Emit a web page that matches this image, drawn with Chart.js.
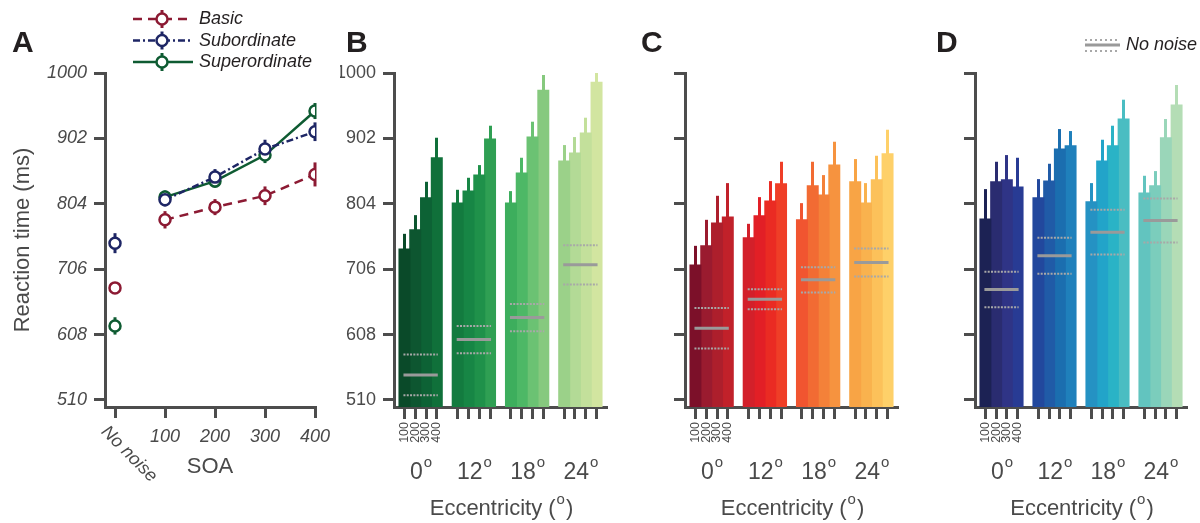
<!DOCTYPE html>
<html>
<head>
<meta charset="utf-8">
<script src="https://cdn.jsdelivr.net/npm/chart.js@4/dist/chart.umd.min.js"></script>
<style>
html, body { margin: 0; padding: 0; background: #fff; overflow: hidden; width: 1200px; height: 523px; }
.panel { position: absolute; top: 0; height: 523px; }
.letter { position: absolute; top: 27px; font: bold 30px "Liberation Sans", Arial, sans-serif; line-height: 30px; color: #231f20; }
</style>
</head>
<body>
<div class="panel" style="left:0;width:340px"><canvas id="cA" width="340" height="523"></canvas></div>
<div class="panel" style="left:340px;width:300px"><canvas id="cB" width="300" height="523"></canvas></div>
<div class="panel" style="left:631px;width:289px"><canvas id="cC" width="289" height="523"></canvas></div>
<div class="panel" style="left:921px;width:279px"><canvas id="cD" width="279" height="523"></canvas></div>
<div class="letter" style="left:12px">A</div>
<div class="letter" style="left:346px">B</div>
<div class="letter" style="left:641px">C</div>
<div class="letter" style="left:936px">D</div>
<script>
const fam = '"Liberation Sans", Arial, sans-serif';
const axisGray = '#4d4d4d';
const textGray = '#4a4a4a';
Chart.defaults.font.family = fam;
Chart.defaults.color = textGray;

// ---- panel A: mean RT per SOA (0 = no noise)
const soaX = [0, 100, 200, 300, 400];
const rtTicks = [510, 608, 706, 804, 902, 1000];
const basicRT = [678, 780, 799, 816, 848];
const basicErr = [4, 13, 12, 14, 18];
const subRT = [745, 810, 844, 886, 912];
const subErr = [15, 10, 12, 14, 14];
const supRT = [621, 814, 838, 877, 943];
const supErr = [13, 10, 10, 12, 12];
const seriesNames = ['Basic', 'Subordinate', 'Superordinate'];
const seriesColors = ['#8c1a33', '#1e2665', '#0e5b32'];

// ---- panels B-D: rows = eccentricity, columns = SOA 100..400
const ecc = ['0', '12', '18', '24'];
const soaBars = ['100', '200', '300', '400'];

const supBars = [[736, 765, 813, 873], [805, 823, 847, 901], [805, 850, 904, 974], [868, 880, 910, 986]];
const supBarErr = [[23, 22, 24, 30], [20, 20, 15, 20], [18, 23, 23, 23], [24, 24, 23, 14]];
const supNoNoise = [547.5, 600.5, 633.5, 712.5];
const supNoNoiseSd = [30.5, 20.5, 20.5, 29.5];

const basicBars = [[712, 741, 775, 784], [753, 786, 808, 834], [780, 831, 817, 862], [837, 805, 840, 879]];
const basicBarErr = [[29, 39, 41, 51], [21, 28, 30, 33], [25, 36, 30, 35], [34, 30, 36, 36]];
const basicNoNoise = [617.5, 661, 690, 716];
const basicNoNoiseSd = [30.5, 15, 19, 21];

const subBars = [[781, 837, 840, 829], [813, 838, 886, 891], [807, 868, 891, 931], [820, 831, 903, 952]];
const subBarErr = [[45, 30, 37, 44], [28, 26, 30, 22], [28, 32, 30, 29], [26, 22, 28, 30]];
const subNoNoise = [675.5, 726, 761.5, 779];
const subNoNoiseSd = [26.5, 27, 33.5, 33];

const greens = ['#0a4a29','#0d5630','#0d6235','#10703a','#137b3f','#178645','#1f914a','#2f9f53',
                '#3dae5d','#4db866','#6bc273','#86c97e','#9bd189','#b3da96','#c3e09b','#d2e5a0'];
const reds = ['#7c1029','#9a1b2f','#ad1f2c','#c1212a','#d3202a','#e21f26','#ea2b23','#ef3e27',
              '#f15530','#f26b33','#f48139','#f6933f','#f8a445','#f9b24e','#fcc15a','#fed069'];
const blues = ['#1c2254','#2a2c70','#2f3486','#283b94','#22489d','#205ba7','#1b6eaf','#1f80bb',
               '#2592c3','#22a4c9','#2ab3c6','#4abdc2','#62c4bf','#7bcdbc','#9ad6b9','#b4ddb5'];

function yAxis(width, labels, italic, title) {
  return {
    min: 499.5, max: 1000,
    afterBuildTicks: s => { s.ticks = rtTicks.map(v => ({ value: v })); },
    afterFit: s => { s.width = width; s.paddingTop = 0; s.paddingBottom = 0; },
    ticks: { font: { size: 18, style: italic ? 'italic' : 'normal' }, color: textGray, padding: 7,
             callback: v => labels ? String(v) : '' },
    grid: { drawOnChartArea: false, tickLength: 11, lineWidth: 3, color: axisGray },
    border: { display: true, width: 3, color: axisGray },
    title: title ? { display: true, text: title, font: { size: 22 }, color: textGray, padding: { top: 10 } } : { display: false }
  };
}

// text followed by a raised small "o"
function supText(ctx, base, cx, baseline, size, tail) {
  const big = size + 'px ' + fam, small = Math.round(size * 0.66) + 'px ' + fam;
  ctx.font = big; const w1 = ctx.measureText(base).width;
  const w3 = tail ? ctx.measureText(tail).width : 0;
  ctx.font = small; const w2 = ctx.measureText('o').width;
  let x = cx - (w1 + w2 + w3) / 2;
  ctx.textAlign = 'left'; ctx.textBaseline = 'alphabetic';
  ctx.font = big; ctx.fillText(base, x, baseline); x += w1;
  ctx.font = small; ctx.fillText('o', x + 1, baseline - size * 0.52); x += w2 + 2;
  if (tail) { ctx.font = big; ctx.fillText(tail, x, baseline); }
}

const crisp = v => Math.round(v - 0.5) + 0.5;

// ---- panel A
const errPlugin = {
  id: 'errA',
  beforeDatasetsDraw(chart) {
    const { ctx, scales: { x, y } } = chart;
    const errs = [basicErr, subErr, supErr];
    const vals = [basicRT, subRT, supRT];
    ctx.save();
    ctx.lineWidth = 3;
    vals.forEach((v, i) => {
      ctx.strokeStyle = seriesColors[i];
      v.forEach((val, k) => {
        const px = x.getPixelForValue(soaX[k]);
        ctx.beginPath();
        ctx.moveTo(px, y.getPixelForValue(val - errs[i][k]));
        ctx.lineTo(px, y.getPixelForValue(val + errs[i][k]));
        ctx.stroke();
      });
    });
    ctx.restore();
  },
  afterDraw(chart) {
    const { ctx, scales: { x } } = chart;
    ctx.save();
    // rotated "No noise" tick label
    ctx.translate(x.getPixelForValue(0) - 11, chart.chartArea.bottom + 22);
    ctx.rotate(Math.PI / 4);
    ctx.font = 'italic 18px ' + fam;
    ctx.fillStyle = textGray;
    ctx.textAlign = 'left'; ctx.textBaseline = 'middle';
    ctx.fillText('No noise', 0, 0);
    ctx.restore();
    // legend
    const dashes = [[9, 6], [7, 3, 2, 3], []];
    ctx.save();
    seriesNames.forEach((name, i) => {
      const ly = 19 + 21.5 * i;
      ctx.strokeStyle = seriesColors[i];
      ctx.lineWidth = 2.5;
      ctx.setLineDash(dashes[i]);
      ctx.beginPath(); ctx.moveTo(133, ly); ctx.lineTo(193, ly); ctx.stroke();
      ctx.setLineDash([]);
      ctx.lineWidth = 3;
      ctx.beginPath(); ctx.moveTo(162, ly - 9); ctx.lineTo(162, ly + 9); ctx.stroke();
      ctx.lineWidth = 2.5;
      ctx.fillStyle = '#fff';
      ctx.beginPath(); ctx.arc(162, ly, 5.5, 0, Math.PI * 2); ctx.fill(); ctx.stroke();
      ctx.fillStyle = '#231f20';
      ctx.font = 'italic 18px ' + fam;
      ctx.textAlign = 'left'; ctx.textBaseline = 'middle';
      ctx.fillText(name, 199, ly);
    });
    ctx.restore();
  }
};

function lineSet(label, vals, color, dash) {
  return {
    label: label,
    data: soaX.map((x, i) => ({ x: x, y: vals[i] })),
    borderColor: color, borderWidth: 2.5, borderDash: dash,
    pointRadius: 5.5, pointBorderWidth: 2.5, pointBackgroundColor: '#fff', pointBorderColor: color,
    tension: 0,
    segment: { borderColor: c => c.p0DataIndex === 0 ? 'rgba(0,0,0,0)' : undefined }
  };
}

new Chart(document.getElementById('cA'), {
  type: 'line',
  data: { datasets: [
    lineSet('Basic', basicRT, seriesColors[0], [9, 6]),
    lineSet('Subordinate', subRT, seriesColors[1], [7, 3, 2, 3]),
    lineSet('Superordinate', supRT, seriesColors[2], [])
  ] },
  options: {
    responsive: false, animation: false, devicePixelRatio: 1,
    layout: { padding: { top: 73, right: 25, left: 0, bottom: 0 } },
    plugins: { legend: { display: false }, tooltip: { enabled: false } },
    scales: {
      x: {
        type: 'linear', min: -20, max: 400,
        afterBuildTicks: s => { s.ticks = soaX.map(v => ({ value: v })); },
        afterFit: s => { s.height = 116; s.paddingLeft = 0; s.paddingRight = 0; },
        ticks: { font: { size: 18, style: 'italic' }, color: textGray, padding: 8, maxRotation: 0, autoSkip: false,
                 callback: v => v === 0 ? '' : String(v) },
        grid: { drawOnChartArea: false, tickLength: 11, lineWidth: 3, color: axisGray },
        border: { display: true, width: 3, color: axisGray },
        title: { display: true, text: 'SOA', font: { size: 22 }, color: textGray, padding: { top: 0, bottom: 43 } }
      },
      y: yAxis(105, true, true, 'Reaction time (ms)')
    }
  },
  plugins: [errPlugin]
});

// ---- panels B-D
function barPanel(id, bars, errs, nn, nnSd, colors, labels, rightPad, legend) {
  const plugin = {
    id: 'extras' + id,
    afterDatasetsDraw(chart) {
      const { ctx, chartArea: ca, scales: { y } } = chart;
      ctx.save();
      // upper error bars
      ctx.lineWidth = 3;
      chart.data.datasets.forEach((ds, j) => {
        chart.getDatasetMeta(j).data.forEach((bar, g) => {
          const bx = crisp(bar.x);
          ctx.strokeStyle = colors[g * 4 + j];
          ctx.beginPath();
          ctx.moveTo(bx, bar.y + 1);
          ctx.lineTo(bx, y.getPixelForValue(bars[g][j] + errs[g][j]));
          ctx.stroke();
        });
      });
      // no-noise mean and spread
      const first = chart.getDatasetMeta(0).data, last = chart.getDatasetMeta(3).data;
      nn.forEach((v, g) => {
        const x0 = first[g].x - 1, x1 = last[g].x + 1;
        ctx.strokeStyle = '#9a9a9a'; ctx.lineWidth = 3; ctx.setLineDash([]);
        ctx.beginPath(); ctx.moveTo(x0, y.getPixelForValue(v)); ctx.lineTo(x1, y.getPixelForValue(v)); ctx.stroke();
        ctx.strokeStyle = '#a8a8a8'; ctx.lineWidth = 2; ctx.setLineDash([2, 1.3]);
        [v + nnSd[g], v - nnSd[g]].forEach(d => {
          ctx.beginPath(); ctx.moveTo(x0, y.getPixelForValue(d)); ctx.lineTo(x1, y.getPixelForValue(d)); ctx.stroke();
        });
      });
      ctx.setLineDash([]);
      // tick marks under every bar, SOA labels under first group
      ctx.strokeStyle = axisGray; ctx.lineWidth = 3;
      ctx.fillStyle = textGray;
      chart.data.datasets.forEach((ds, j) => {
        chart.getDatasetMeta(j).data.forEach((bar, g) => {
          const bx = crisp(bar.x);
          ctx.beginPath(); ctx.moveTo(bx, ca.bottom); ctx.lineTo(bx, ca.bottom + 12); ctx.stroke();
          if (g === 0) {
            ctx.save();
            ctx.translate(bar.x, ca.bottom + 15);
            ctx.rotate(-Math.PI / 2);
            ctx.font = '12.5px ' + fam;
            ctx.textAlign = 'right'; ctx.textBaseline = 'middle';
            ctx.fillText(soaBars[j], 0, 0);
            ctx.restore();
          }
        });
      });
      // eccentricity labels and axis title
      ecc.forEach((e, g) => {
        const cx = (first[g].x + last[g].x) / 2;
        supText(ctx, e, cx, ca.bottom + 72, 23);
      });
      supText(ctx, 'Eccentricity (', (ca.left + ca.right) / 2, ca.bottom + 108, 22, ')');
      if (legend) {
        const lx0 = 164, lx1 = 199, ly = 45;
        ctx.strokeStyle = '#9a9a9a'; ctx.lineWidth = 3;
        ctx.beginPath(); ctx.moveTo(lx0, ly); ctx.lineTo(lx1, ly); ctx.stroke();
        ctx.strokeStyle = '#a8a8a8'; ctx.lineWidth = 2; ctx.setLineDash([2, 3]);
        [ly - 5, ly + 6].forEach(d => { ctx.beginPath(); ctx.moveTo(lx0, d); ctx.lineTo(lx1, d); ctx.stroke(); });
        ctx.setLineDash([]);
        ctx.fillStyle = '#231f20';
        ctx.font = 'italic 18px ' + fam;
        ctx.textAlign = 'left'; ctx.textBaseline = 'middle';
        ctx.fillText('No noise', 205, ly);
      }
      ctx.restore();
    }
  };

  new Chart(document.getElementById(id), {
    type: 'bar',
    data: {
      labels: ecc,
      datasets: soaBars.map((s, j) => ({
        label: s,
        data: bars.map(r => r[j]),
        backgroundColor: bars.map((r, g) => colors[g * 4 + j]),
        borderWidth: 0,
        inflateAmount: 0.6,
        categoryPercentage: 0.81,
        barPercentage: 1
      }))
    },
    options: {
      responsive: false, animation: false, devicePixelRatio: 1,
      layout: { padding: { top: 73, right: rightPad, left: 0, bottom: 0 } },
      plugins: { legend: { display: false }, tooltip: { enabled: false } },
      scales: {
        x: {
          afterFit: s => { s.height = 116; s.paddingLeft = 0; s.paddingRight = 0; },
          ticks: { display: false },
          grid: { display: false },
          border: { display: true, width: 3, color: axisGray }
        },
        y: yAxis(54, labels, false, null)
      }
    },
    plugins: [plugin]
  });
}

barPanel('cB', supBars, supBarErr, supNoNoise, supNoNoiseSd, greens, true, 33, false);
barPanel('cC', basicBars, basicBarErr, basicNoNoise, basicNoNoiseSd, reds, false, 22, false);
barPanel('cD', subBars, subBarErr, subNoNoise, subNoNoiseSd, blues, false, 13, true);
</script>
</body>
</html>
